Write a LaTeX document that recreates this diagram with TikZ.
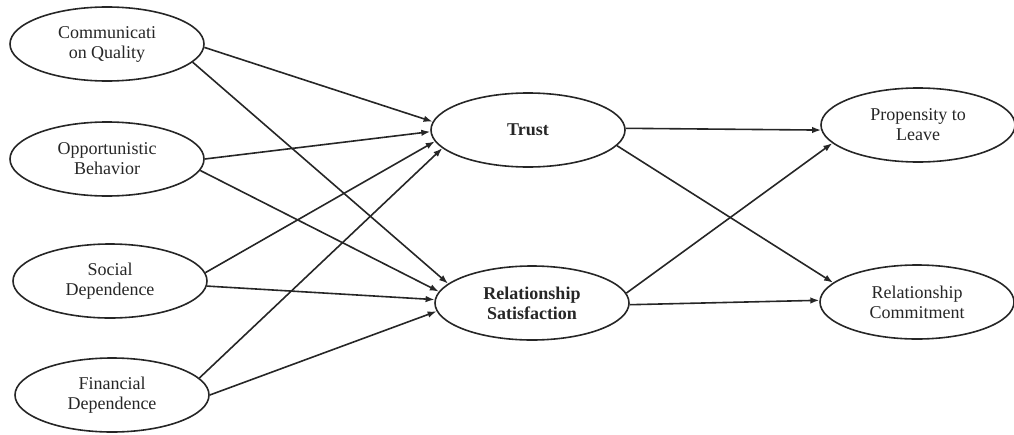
\documentclass[tikz,border=0pt]{standalone}
\usepackage{fontspec}
\setmainfont{Liberation Serif}
\usetikzlibrary{shapes.geometric,arrows.meta}
\begin{document}
\begin{tikzpicture}[x=1pt,y=-1pt,
  var/.style={ellipse,draw=black!85,line width=1.6pt,minimum width=194pt,minimum height=74pt,
    inner sep=0pt,align=center,font=\fontsize{18}{20}\selectfont,text=black!85},
  mid/.style={var,font=\fontsize{18}{20}\selectfont\bfseries},
  link/.style={draw=black!85,line width=1.6pt,-{Latex[length=9pt,width=6.5pt]}}]
\useasboundingbox (0,0) rectangle (1014,434);
\node[var] (cq) at (107,44) {Communicati\\on Quality};
\node[var] (ob) at (107,159) {Opportunistic\\Behavior};
\node[var] (sd) at (110,281) {Social\\Dependence};
\node[var] (fd) at (112,395) {Financial\\Dependence};
\node[mid] (tr) at (528,130) {Trust};
\node[mid] (rs) at (532,303) {Relationship\\Satisfaction};
\node[var] (pl) at (918,125) {Propensity to\\Leave};
\node[var] (rc) at (917,302) {Relationship\\Commitment};
\draw[link] (cq.-2) -- (tr.175);
\draw[link] (cq.-12) -- (rs.167);
\draw[link] (ob.0) -- (tr.181);
\draw[link] (ob.-7) -- (rs.173);
\draw[link] (sd.5) -- (tr.187);
\draw[link] (sd.-3) -- (rs.178);
\draw[link] (fd.11) -- (tr.192);
\draw[link] (fd.0) -- (rs.185);
\draw[link] (tr.1) -- (pl.183);
\draw[link] (tr.-10) -- (rc.167);
\draw[link] (rs.6) -- (pl.192);
\draw[link] (rs.-1) -- (rc.179);
\end{tikzpicture}
\end{document}
